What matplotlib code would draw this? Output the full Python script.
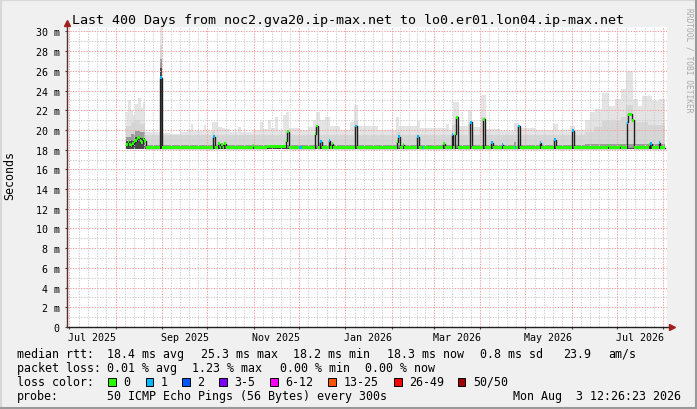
import datetime as dt
import numpy as np
import matplotlib
matplotlib.use("Agg")
import matplotlib.pyplot as plt
import matplotlib.dates as mdates
from matplotlib.patches import Rectangle
from matplotlib.lines import Line2D
from matplotlib.transforms import blended_transform_factory

# ---------------- data ----------------
TITLE = "Last 400 Days from noc2.gva20.ip-max.net to lo0.er01.lon04.ip-max.net"
DAY0 = dt.datetime(2025, 7, 1)          # day offsets below are counted from here
END = dt.datetime(2026, 8, 3, 12, 26, 23)
SPAN_DAYS = 400

# median rtt (ms) as steps: start day, value, loss bucket index
med_day = [38, 39, 40, 41, 42, 43, 44, 45, 46, 47, 48, 49, 50, 51,
           60.7, 62.0, 96.0, 97.2, 99.5, 100.3, 101.5, 102.3, 103.5, 104.3,
           122.5, 123.5, 132.0, 144.5, 145.3, 146.5, 153.5, 155.0,
           164.0, 164.8, 165.8, 167.5, 168.3, 173.0, 174.0, 175.0, 176.0,
           190.3, 192.0, 218.5, 219.2, 220.3, 222.5, 223.3, 232.0, 233.3,
           235.0, 236.0, 249.5, 250.3, 255.0, 256.0, 257.3, 258.0, 259.2,
           267.5, 268.7, 275.8, 277.3, 281.5, 282.3, 288.3, 289.0, 297.0, 298.0,
           299.5, 300.7, 314.0, 314.8, 323.0, 324.5, 335.3, 336.2, 359.0, 359.8,
           367.3, 368.0, 371.8, 372.5, 375.0, 376.2, 386.3, 387.0, 387.5, 388.3,
           393.0, 394.0]
med_ms = [18.5, 18.8, 18.5, 18.4, 18.6, 18.8, 18.9, 19.1, 19.2, 18.9, 18.7, 19.1, 18.9, 18.2,
          25.3, 18.2, 19.3, 18.2, 18.6, 18.2, 18.5, 18.2, 18.6, 18.2,
          18.4, 18.2, 18.3, 18.9, 19.8, 18.2, 18.2, 18.2,
          19.6, 20.4, 18.2, 18.8, 18.2, 18.9, 18.2, 18.6, 18.2,
          20.4, 18.2, 18.8, 19.3, 18.2, 18.5, 18.2, 19.3, 18.2,
          18.2, 18.2, 18.6, 18.2, 19.5, 18.2, 19.6, 21.3, 18.2,
          20.8, 18.2, 21.1, 18.2, 18.7, 18.2, 18.5, 18.2, 18.2, 18.2,
          20.4, 18.2, 18.7, 18.2, 19.0, 18.2, 19.9, 18.2, 18.4, 18.2,
          18.4, 18.2, 20.8, 21.6, 21.0, 18.2, 18.5, 18.2, 18.6, 18.2,
          18.7, 18.2]
med_loss = [0, 0, 0, 0, 0, 0, 0, 0, 0, 0, 0, 0, 0, 0,
            1, 0, 1, 0, 0, 0, 0, 0, 0, 0,
            0, 0, 0, 0, 0, 0, 1, 0,
            0, 0, 0, 1, 0, 1, 0, 0, 0,
            1, 0, 0, 1, 0, 0, 0, 1, 0,
            1, 0, 0, 0, 1, 0, 0, 0, 0,
            1, 0, 0, 0, 1, 0, 1, 0, 1, 0,
            1, 0, 1, 0, 1, 0, 1, 0, 0, 0,
            0, 0, 1, 0, 0, 0, 0, 0, 1, 0,
            1, 0]
data_end_day = 397.5

# smoke (ping spread, ms): step segments start day / top value
smoke_floor = 18.1
smoke_max_day = [38.0, 39.3, 41.3, 42.7, 44.0, 46.0, 48.0, 49.3, 50.7, 60.2, 61.8, 67.3,
                 74.0, 78.7, 81.3, 82.7, 90.0, 91.3, 95.3, 99.3, 102.0, 104.0, 107.3,
                 112.7, 114.7, 122.7, 127.3, 129.3, 132.7, 134.7, 137.3, 139.3, 142.7,
                 144.7, 146.7, 154.0, 159.3, 162.7, 164.7, 167.3, 170.7, 174.0, 180.7,
                 187.3, 189.7, 192.3, 206.0, 218.0, 220.0, 232.0, 234.0, 251.3, 253.3,
                 256.0, 260.0, 266.0, 268.7, 274.7, 278.0, 287.3, 296.7, 300.0, 310.7,
                 322.7, 326.0, 334.0, 337.3, 344.0, 347.3, 350.7, 355.3, 360.0, 364.0,
                 368.0, 371.3, 376.0, 379.3, 382.0, 388.7, 393.3]
smoke_max_ms = [21.8, 23.0, 22.0, 21.5, 22.6, 23.2, 22.2, 22.8, 19.75, 30.6, 19.7, 19.6,
                19.8, 20.0, 20.6, 19.9, 20.5, 19.9, 20.8, 20.3, 20.2, 20.1, 19.8,
                20.3, 19.8, 20.0, 20.8, 20.1, 21.0, 20.2, 21.3, 20.0, 21.5,
                21.8, 20.2, 20.0, 20.3, 21.0, 21.8, 21.0, 21.3, 20.4, 20.0,
                20.8, 22.5, 20.4, 20.0, 21.3, 20.4, 20.9, 20.2, 20.6, 20.0,
                22.8, 20.4, 22.0, 20.3, 23.5, 20.1, 19.9, 20.7, 20.2, 20.0,
                20.6, 20.0, 20.4, 20.0, 21.0, 21.8, 22.1, 23.8, 22.4, 23.1,
                24.2, 26.0, 23.1, 22.4, 23.4, 22.9, 23.1]
smoke_mid_day = [38, 41, 44, 47, 50.7, 60.2, 61.8, 95.3, 97.5, 144, 147, 164, 166,
                 189.7, 192.3, 218, 220.5, 255, 260, 266, 269, 274.7, 278, 344, 350,
                 355, 368, 371.3, 376, 386]
smoke_mid_ms = [20.4, 20.8, 21.0, 20.6, 19.5, 28.6, 19.5, 19.9, 19.5, 20.0, 19.5, 20.2, 19.5,
                21.0, 19.5, 19.8, 19.5, 20.5, 19.5, 20.6, 19.5, 21.3, 19.5, 19.8, 20.3,
                20.9, 21.3, 22.5, 20.8, 20.5]
smoke_dark_day = [38, 41, 44, 47, 50.7, 60.2, 61.8, 296.7, 298, 344]
smoke_dark_ms = [19.3, 19.6, 19.9, 19.8, 18.45, 27.2, 18.45, 18.8, 18.45, 18.6]
smoke_core_day = [38, 41, 44, 47, 50.7, 60.2, 61.8]
smoke_core_ms = [18.9, 19.0, 19.3, 19.2, 18.2, 26.3, 18.2]

loss_labels = ["0", "1", "2", "3-5", "6-12", "13-25", "26-49", "50/50"]
loss_colors = ["#26ff00", "#00b8ff", "#0059ff", "#7e00ff", "#ff00ff", "#ff5500", "#ff0000", "#a10000"]

y_ticks = list(range(0, 31, 2))
y_tick_labels = ["0"] + [f"{v} m" for v in range(2, 31, 2)]
x_label_months = [(2025, 7), (2025, 9), (2025, 11), (2026, 1), (2026, 3), (2026, 5), (2026, 7)]

legend_rows = [
    [(16.7, "median rtt:"), (107.3, "18.4 ms avg"), (201.0, "25.3 ms max"), (293.3, "18.2 ms min"),
     (386.7, "18.3 ms now"), (480.0, "0.8 ms sd"), (563.6, "23.9"), (608.0, "am/s")],
    [(16.7, "packet loss:"), (107.3, "0.01 % avg"), (192.5, "1.23 % max"), (280.0, "0.00 % min"),
     (365.3, "0.00 % now")],
]
probe_text = "50 ICMP Echo Pings (56 Bytes) every 300s"
stamp_text = "Mon Aug  3 12:26:23 2026"

# ---------------- drawing ----------------
W, H = 697, 410
MONO = "DejaVu Sans Mono"
plt.rcParams["font.family"] = [MONO, "DejaVu Sans"]

def fx(px):
    return px / W

def fy(py):
    return (H - py) / H

fig = plt.figure(figsize=(W / 100, H / 100), dpi=100, facecolor="#f0f0f0")
ax = fig.add_axes([fx(67), fy(328), 600 / W, 300 / H])
ax.set_facecolor("white")
for s in ax.spines.values():
    s.set_visible(False)

t0 = mdates.date2num(DAY0)
start = END - dt.timedelta(days=SPAN_DAYS)
ax.set_xlim(mdates.date2num(start), mdates.date2num(END))
ax.set_ylim(0, 30.45)

def steps(days, vals):
    x = t0 + np.array(list(days) + [data_end_day], dtype=float)
    y = np.array(list(vals) + [vals[-1]], dtype=float)
    return x, y

for days, vals, col, z in [(smoke_max_day, smoke_max_ms, "#e4e4e4", 1.0),
                           (smoke_mid_day, smoke_mid_ms, "#d6d6d6", 1.1),
                           (smoke_dark_day, smoke_dark_ms, "#9c9c9c", 1.2),
                           (smoke_core_day, smoke_core_ms, "#484848", 1.3)]:
    x, y = steps(days, vals)
    ax.fill_between(x, smoke_floor, y, step="post", color=col, lw=0, zorder=z)

# grid
dot = (0, (1.3, 1.3))
for v in range(1, 31):
    ax.axhline(v, color="#f3a0a0" if v % 2 == 0 else "#cfcfcf", lw=0.75, ls=dot, zorder=2)
months = []
y_, m_ = 2025, 7
while dt.datetime(y_, m_, 1) < END:
    months.append(dt.datetime(y_, m_, 1))
    m_ += 1
    if m_ > 12:
        m_, y_ = 1, y_ + 1
months.append(dt.datetime(y_, m_, 1))
mnum = mdates.date2num(months)
for i in range(len(mnum) - 1):
    ax.axvline(mnum[i], color="#f3a0a0", lw=0.75, ls=dot, zorder=2)
    for k in range(1, 5):
        xv = mnum[i] + (mnum[i + 1] - mnum[i]) * k / 5
        if xv < ax.get_xlim()[1]:
            ax.axvline(xv, color="#cfcfcf", lw=0.75, ls=dot, zorder=2)

# median: dark connecting line + loss-coloured bands
mx, my = steps(med_day, med_ms)
ax.plot(mx, my, drawstyle="steps-post", color="#202020", lw=1.0, zorder=3)
bw = 0.15
for i in range(len(med_day)):
    x0 = t0 + med_day[i]
    x1 = t0 + (med_day[i + 1] if i + 1 < len(med_day) else data_end_day)
    ax.fill_between([x0, x1], med_ms[i] - bw, med_ms[i] + bw,
                    color=loss_colors[med_loss[i]], lw=0, zorder=4)

# axes, ticks, arrows
ax.set_yticks(y_ticks)
ax.set_yticklabels(y_tick_labels, fontsize=7.2, family=MONO)
ax.set_xticks(mnum[:-1])
ax.set_xticklabels([])
ax.tick_params(axis="y", length=1.6, width=0.8, color="#404040", pad=3.6)
ax.tick_params(axis="x", length=1.6, width=0.8, color="#404040")
ax.plot([0, 605 / 600], [0, 0], transform=ax.transAxes, color="#202020", lw=1.0, clip_on=False, zorder=5)
ax.plot([0, 0], [0, 304 / 300], transform=ax.transAxes, color="#503030", lw=1.0, clip_on=False, zorder=5)
ax.plot([605 / 600], [0], marker=">", ms=4, color="#a02020", transform=ax.transAxes, clip_on=False, zorder=6)
ax.plot([0], [304 / 300], marker="^", ms=4, color="#a02020", transform=ax.transAxes, clip_on=False, zorder=6)

trans = blended_transform_factory(ax.transData, fig.transFigure)
for (yy, mm) in x_label_months:
    a = dt.datetime(yy, mm, 1)
    b = dt.datetime(yy + (mm == 12), mm % 12 + 1, 1)
    mid = (mdates.date2num(a) + mdates.date2num(b)) / 2
    ax.text(mid, fy(341), a.strftime("%b %Y"), transform=trans, ha="center", va="baseline",
            fontsize=7.2, family=MONO, clip_on=False)

# texts
fig.text(0.5, fy(24), TITLE, ha="center", va="baseline", fontsize=9.6, family=MONO)
fig.text(fx(10), fy(175), "Seconds", rotation=90, ha="center", va="center", fontsize=8.4, family=MONO)
fig.text(fx(689), fy(8), "RRDTOOL / TOBI OETIKER", rotation=-90, ha="center", va="top",
         fontsize=5.7, family=MONO, color="#a8a8a8")

LF = 8.4
row_base = [357.7, 371.7, 385.7, 399.7]
for r, items in enumerate(legend_rows):
    for xpx, txt in items:
        fig.text(fx(xpx), fy(row_base[r]), txt, ha="left", va="baseline", fontsize=LF, family=MONO)
fig.text(fx(16.7), fy(row_base[2]), "loss color:", ha="left", va="baseline", fontsize=LF, family=MONO)
box_x = [108.3, 145.7, 182.3, 219.0, 270.0, 328.3, 394.2, 457.8]
for bx, lab, col in zip(box_x, loss_labels, loss_colors):
    fig.add_artist(Rectangle((fx(bx), fy(386.5)), 7.5 / W, 7.5 / H, transform=fig.transFigure,
                             facecolor=col, edgecolor="black", lw=0.7))
    fig.text(fx(bx + 15), fy(row_base[2]), lab, ha="left", va="baseline", fontsize=LF, family=MONO)
fig.text(fx(16.7), fy(row_base[3]), "probe:", ha="left", va="baseline", fontsize=LF, family=MONO)
fig.text(fx(107.3), fy(row_base[3]), probe_text, ha="left", va="baseline", fontsize=LF, family=MONO)
fig.text(fx(681), fy(row_base[3]), stamp_text, ha="right", va="baseline", fontsize=LF, family=MONO)

# 3-D frame
fig.add_artist(Line2D([0, 1], [1 - 1 / H, 1 - 1 / H], transform=fig.transFigure, color="#d8d8d8", lw=1.5))
fig.add_artist(Line2D([1 / W, 1 / W], [0, 1], transform=fig.transFigure, color="#d8d8d8", lw=1.5))
fig.add_artist(Line2D([0, 1], [1 / H, 1 / H], transform=fig.transFigure, color="#999999", lw=1.5))
fig.add_artist(Line2D([1 - 1 / W, 1 - 1 / W], [0, 1], transform=fig.transFigure, color="#999999", lw=1.5))

fig.savefig("out.png", dpi=100, facecolor=fig.get_facecolor())
